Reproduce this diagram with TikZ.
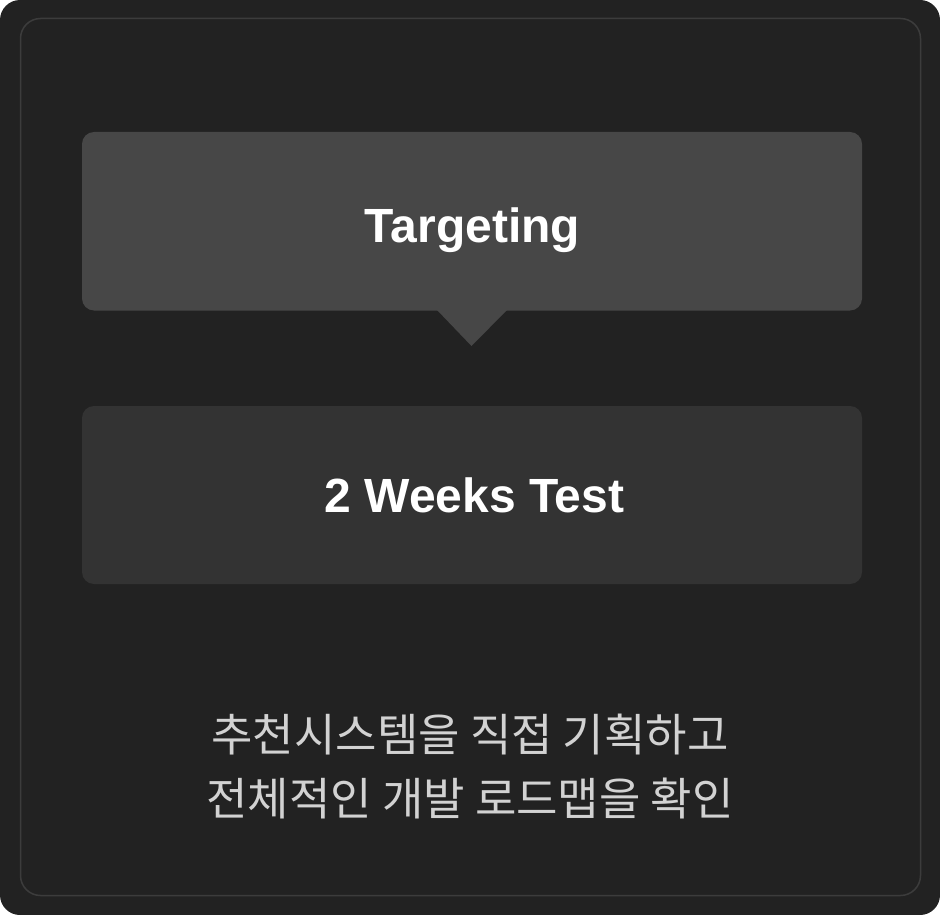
\documentclass[tikz,border=0pt]{standalone}
\usepackage{fontspec}
\setmainfont{Liberation Sans}
\newfontfamily\krfont{Noto Sans CJK KR}
\definecolor{bgdark}{HTML}{222222}
\definecolor{frameline}{HTML}{3C3C3C}
\definecolor{boxtop}{HTML}{474747}
\definecolor{boxbot}{HTML}{333333}
\definecolor{kortext}{HTML}{D2D2D2}
\tikzset{
  panel/.style={rounded corners=12pt, draw=none},
  title/.style={text=white, font=\fontsize{48}{52}\selectfont\bfseries, inner sep=0pt, anchor=base},
  caption/.style={text=kortext, font=\krfont\fontsize{45}{64}\selectfont, align=center, inner sep=0pt}
}
\begin{document}
\begin{tikzpicture}[x=1pt,y=-1pt]
\useasboundingbox (0,0) rectangle (940,915);
\fill[white] (0,0) rectangle (940,915);
\fill[bgdark, rounded corners=20pt] (0,0) rectangle (940,915);
\draw[frameline, line width=1.5pt, rounded corners=20pt] (20.5,18.5) rectangle (920.5,895.5);
% top box with pointer
\fill[boxtop, panel] (82,132) rectangle (862,310.5);
\coordinate (tl) at (437,310);
\coordinate (tr) at (507,310);
\coordinate (tip) at (471.5,346);
\fill[boxtop] (tl) -- (tip) -- (tr) -- cycle;
\node[title] (targ) at (472.5,242) {Targeting};
% bottom box
\fill[boxbot, panel] (82,406) rectangle (862,584);
\node[title] (test) at (474.5,512) {2 Weeks Test};
% caption
\node[caption] (cap) at (470,767) {추천시스템을 직접 기획하고\\전체적인 개발 로드맵을 확인};
\end{tikzpicture}
\end{document}
